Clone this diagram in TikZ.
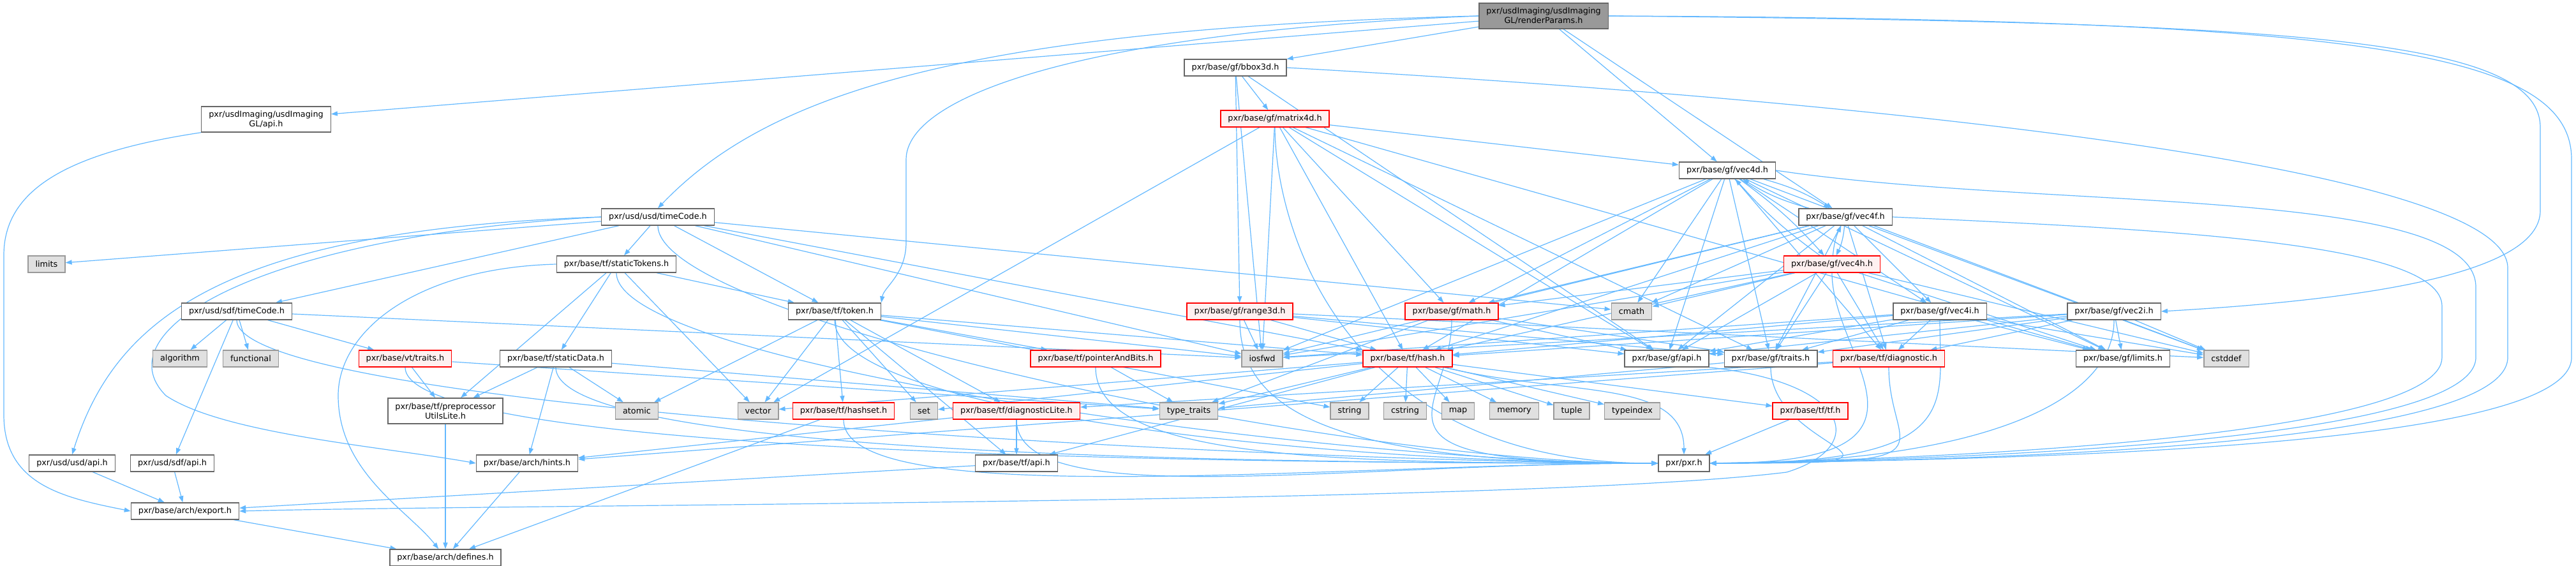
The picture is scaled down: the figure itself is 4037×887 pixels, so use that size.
\documentclass[tikz,border=0pt]{standalone}
\usepackage{fontspec}
\setmainfont{DejaVu Sans}
\usetikzlibrary{arrows.meta,backgrounds}
\definecolor{edgeblue}{HTML}{63B8FF}
\definecolor{boxgray}{HTML}{666666}
\definecolor{sysgray}{HTML}{999999}
\definecolor{sysfill}{HTML}{E0E0E0}
\definecolor{truncfill}{HTML}{FFF0F0}
\definecolor{rootfill}{HTML}{999999}

\begin{document}
\begin{tikzpicture}[x=0.5pt, y=-0.5pt,
  hdr/.style = {draw=boxgray, fill=white, line width=0.7pt, rectangle, inner xsep=5.75pt, inner ysep=1pt,
                minimum height=13pt, font=\fontsize{6.4}{7.5}\selectfont, align=center},
  trunc/.style = {hdr, draw=red, fill=truncfill},
  sys/.style = {hdr, draw=sysgray, fill=sysfill},
  focus/.style = {hdr, fill=rootfill},
  dep/.style = {draw=edgeblue, line width=0.6pt, -{Triangle[length=5pt,width=3.6pt]}}]
  \useasboundingbox (0,0) rectangle (4037,887);

  % rows of headers
  \node[focus, minimum height=20pt] (root) at (2419,25) {pxr/usdImaging/usdImaging\\GL/renderParams.h};
  \node[hdr] (bbox) at (1936,106) {pxr/base/gf/bbox3d.h};
  \node[hdr, minimum height=20pt] (glapi) at (417,187) {pxr/usdImaging/usdImaging\\GL/api.h};
  \node[trunc] (mat) at (1998,186) {pxr/base/gf/matrix4d.h};
  \node[hdr] (vecfd) at (2707,267) {pxr/base/gf/vec4d.h};
  \node[hdr] (utc) at (1031,340) {pxr/usd/usd/timeCode.h};
  \node[hdr] (vecff) at (2892,340) {pxr/base/gf/vec4f.h};
  \node[sys] (limits) at (73,414) {limits};
  \node[hdr] (stok) at (966,414) {pxr/base/tf/staticTokens.h};
  \node[trunc] (vech) at (2871,414) {pxr/base/gf/vec4h.h};
  \node[hdr] (stc) at (371,488) {pxr/usd/sdf/timeCode.h};
  \node[hdr] (token) at (1308,488) {pxr/base/tf/token.h};
  \node[trunc] (range) at (1943,488) {pxr/base/gf/range3d.h};
  \node[trunc] (math) at (2275,488) {pxr/base/gf/math.h};
  \node[sys] (cmath) at (2557,488) {cmath};
  \node[hdr] (veci) at (3040,488) {pxr/base/gf/vec4i.h};
  \node[hdr] (vectwoi) at (3313,488) {pxr/base/gf/vec2i.h};
  \node[sys] (algorithm) at (282,562) {algorithm};
  \node[sys] (functional) at (393,562) {functional};
  \node[trunc] (vttraits) at (635,562) {pxr/base/vt/traits.h};
  \node[hdr] (sdata) at (871,562) {pxr/base/tf/staticData.h};
  \node[trunc] (pab) at (1717,562) {pxr/base/tf/pointerAndBits.h};
  \node[sys] (iosfwd) at (1978,562) {iosfwd};
  \node[trunc] (hash) at (2206,562) {pxr/base/tf/hash.h};
  \node[hdr] (gfapi) at (2612,562) {pxr/base/gf/api.h};
  \node[hdr] (gftraits) at (2775,562) {pxr/base/gf/traits.h};
  \node[trunc] (diag) at (2960,562) {pxr/base/tf/diagnostic.h};
  \node[hdr] (gflimits) at (3327,562) {pxr/base/gf/limits.h};
  \node[sys] (cstddef) at (3489,562) {cstddef};
  \node[hdr, minimum height=20pt] (pul) at (698,644) {pxr/base/tf/preprocessor\\UtilsLite.h};
  \node[sys] (atomic) at (998,644) {atomic};
  \node[sys] (vector) at (1188,644) {vector};
  \node[trunc] (hashset) at (1322,644) {pxr/base/tf/hashset.h};
  \node[sys] (set) at (1448,644) {set};
  \node[trunc] (diaglite) at (1593,644) {pxr/base/tf/diagnosticLite.h};
  \node[sys] (typetraits) at (1863,644) {type\_traits};
  \node[sys] (string) at (2115,644) {string};
  \node[sys] (cstring) at (2202,644) {cstring};
  \node[sys] (map) at (2285,644) {map};
  \node[sys] (memory) at (2373,644) {memory};
  \node[sys] (tuple) at (2463,644) {tuple};
  \node[sys] (typeindex) at (2558,644) {typeindex};
  \node[trunc] (tftf) at (2837,644) {pxr/base/tf/tf.h};
  \node[hdr] (usdapi) at (113,726) {pxr/usd/usd/api.h};
  \node[hdr] (sdfapi) at (270,726) {pxr/usd/sdf/api.h};
  \node[hdr] (hints) at (826,726) {pxr/base/arch/hints.h};
  \node[hdr] (tfapi) at (1593,726) {pxr/base/tf/api.h};
  \node[hdr] (pxr) at (2639,726) {pxr/pxr.h};
  \node[hdr] (export) at (290,801) {pxr/base/arch/export.h};
  \node[hdr] (defines) at (698,874) {pxr/base/arch/defines.h};

  \begin{pgfonlayer}{background}
  % includes of the top file
  \foreach \t in {glapi,bbox,vecfd,vecff} \draw[dep] (root) -- (\t);
  \draw[dep] (root.west) .. controls (1500,45) and (1200,150) .. (utc.north);
  \draw[dep] (root.west) .. controls (1700,50) and (1420,150) .. (1420,250) -- (1420,380)
    .. controls (1420,430) and (1385,450) .. (token.north east);
  \draw[dep] (root.east) .. controls (3600,35) and (3981,60) .. (3981,200) -- (3981,330)
    .. controls (3981,430) and (3700,470) .. (vectwoi.east);
  \draw[dep] (root.east) .. controls (3700,30) and (4030,80) .. (4030,250) -- (4030,560)
    .. controls (4030,700) and (3200,720) .. (pxr.east);
  \draw[dep] (glapi.south west) .. controls (100,240) and (6,300) .. (6,400) -- (6,650)
    .. controls (6,760) and (100,780) .. (export.west);

  % gf
  \foreach \t in {mat,range,gfapi,iosfwd} \draw[dep] (bbox) -- (\t);
  \draw[dep] (bbox.east) .. controls (2800,150) and (3930,250) .. (3930,420) -- (3930,560)
    .. controls (3930,700) and (3100,722) .. (pxr.east);
  \foreach \t in {vecfd,gfapi,gftraits,gflimits,math,hash,iosfwd,vector} \draw[dep] (mat) -- (\t);
  \foreach \t in {gfapi,gftraits,hash,cstddef,iosfwd} \draw[dep] (range) -- (\t);
  \foreach \s in {vecfd,vecff,vech} {
    \foreach \t in {diag,gfapi,gflimits,gftraits,math,hash,cstddef,cmath,iosfwd} \draw[dep] (\s) -- (\t);
  }
  \draw[dep] (vecfd) to[bend left=8] (vecff);
  \draw[dep] (vecff) to[bend left=8] (vecfd);
  \draw[dep] (vecfd) to[bend left=6] (vech);
  \draw[dep] (vech) to[bend left=6] (vecfd);
  \draw[dep] (vecff) to[bend left=10] (vech);
  \draw[dep] (vech) to[bend left=10] (vecff);
  \draw[dep] (vecfd) -- (veci);
  \draw[dep] (vecff) -- (veci);
  \draw[dep] (vecfd.east) .. controls (3200,330) and (3880,290) .. (3880,450) -- (3880,560)
    .. controls (3880,690) and (3100,720) .. (pxr.east);
  \draw[dep] (vecff.east) .. controls (3400,360) and (3827,380) .. (3827,480) -- (3827,560)
    .. controls (3827,680) and (3100,718) .. (pxr.east);
  \foreach \s in {veci,vectwoi} {
    \foreach \t in {diag,gfapi,gflimits,gftraits,hash,cstddef,iosfwd} \draw[dep] (\s) -- (\t);
  }
  \foreach \t in {gfapi,gftraits,typetraits} \draw[dep] (math) -- (\t);
  \draw[dep] (gftraits) -- (typetraits);
  \draw[dep] (gfapi.south east) .. controls (2900,600) and (2930,700) .. (2800,740)
    .. controls (2400,790) and (800,790) .. (export.east);

  % tf
  \foreach \t in {diaglite,hints} \draw[dep] (diag) -- (\t);
  \foreach \t in {tftf,tfapi,string,cstring,map,memory,tuple,typeindex,typetraits,vector,set}
    \draw[dep] (hash) -- (\t);
  \draw[dep] (hash) .. controls +(250,60) and +(0,-120) .. (pxr.north);
  \draw[dep] (tftf) -- (pxr);
  \foreach \t in {tfapi,diaglite,hash,hashset,pab,atomic,iosfwd,string,vector,set} \draw[dep] (token) -- (\t);
  \draw[dep] (hashset) -- (defines);
  \draw[dep] (pab) -- (typetraits);
  \foreach \t in {tfapi,hints} \draw[dep] (diaglite) -- (\t);
  \draw[dep] (tfapi) -- (export);
  \foreach \t in {pul,sdata,token,vector} \draw[dep] (stok) -- (\t);
  \draw[dep] (stok.west) .. controls (650,420) and (530,520) .. (530,620)
    .. controls (530,740) and (640,800) .. (defines);
  \foreach \t in {pul,hints,atomic,typetraits} \draw[dep] (sdata) -- (\t);
  \foreach \t in {pul,typetraits} \draw[dep] (vttraits) -- (\t);

  % usd and sdf
  \foreach \t in {algorithm,functional,vttraits,sdfapi,iosfwd} \draw[dep] (stc) -- (\t);
  \foreach \t in {limits,stc,stok,token,cmath,iosfwd,hash} \draw[dep] (utc) -- (\t);
  \draw[dep] (utc.west) .. controls (350,360) and (180,500) .. (usdapi.north);
  \draw[dep] (utc.west) .. controls (400,370) and (160,520) .. (260,620)
    .. controls (350,680) and (600,700) .. (hints.west);
  \foreach \s in {usdapi,sdfapi} \draw[dep] (\s) -- (export);
  \foreach \s in {hints,export,pul} \draw[dep] (\s) -- (defines);

  % everything ends in pxr.h
  \foreach \s in {mat,range,math,token,hashset,pab,diaglite,stok,sdata,vttraits,stc,utc}
    \draw[dep] (\s) .. controls +(0,160) and +(-500,0) .. (pxr.west);
  \foreach \s in {vech,veci,vectwoi,gftraits,diag}
    \draw[dep] (\s) .. controls +(0,150) and +(400,0) .. (pxr.east);
  \end{pgfonlayer}
\end{tikzpicture}
\end{document}
